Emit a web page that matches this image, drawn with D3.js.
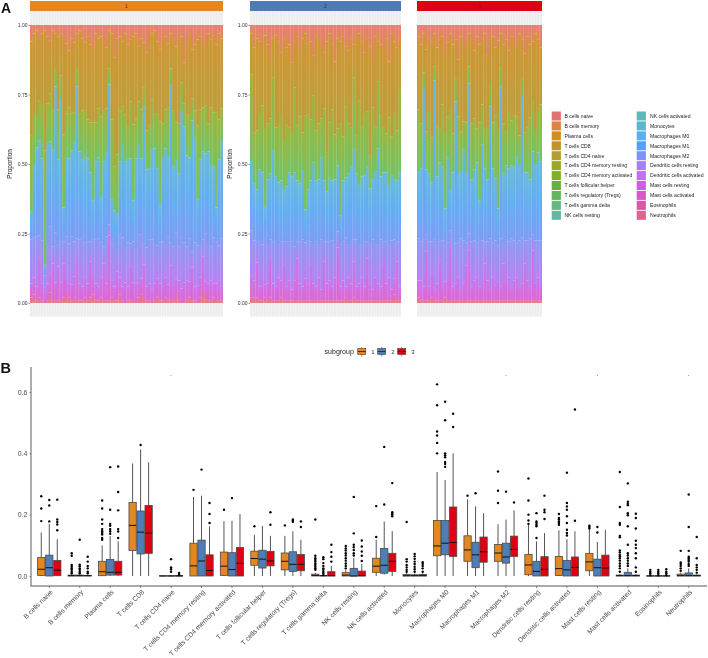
<!DOCTYPE html>
<html>
<head>
<meta charset="utf-8">
<script src="https://cdn.jsdelivr.net/npm/d3@7"></script>
<style>
  html, body { margin: 0; padding: 0; background: #fff; }
  svg { will-change: transform; }
  text { font-family: "Liberation Sans", Arial, sans-serif; }
</style>
</head>
<body>
<svg id="chart" width="708" height="658"></svg>
<script>
const cellTypes = ["B cells naive", "B cells memory", "Plasma cells", "T cells CD8", "T cells CD4 naive",
    "T cells CD4 memory resting", "T cells CD4 memory activated", "T cells follicular helper",
    "T cells regulatory (Tregs)", "T cells gamma delta", "NK cells resting", "NK cells activated", "Monocytes",
    "Macrophages M0", "Macrophages M1", "Macrophages M2", "Dendritic cells resting", "Dendritic cells activated",
    "Mast cells resting", "Mast cells activated", "Eosinophils", "Neutrophils"];
const legendColors = ["#E0736F", "#DB8444", "#CF8E1F", "#BE9625", "#B0A030", "#98A827", "#80AE25", "#62B338",
    "#62B65E", "#62BA80", "#62B9A0", "#5FB9B9", "#5DB5D0", "#5BAFEA", "#579FF5", "#8090F5", "#A67FF2", "#C070F0",
    "#CC60E0", "#D85AC8", "#DA58AA", "#DE6490"];
const subgroups = ["1", "2", "3"];
const subgroupColors = ["#E5871F", "#4F7DB8", "#E00012"];
const yTicksA = [0, 0.25, 0.5, 0.75, 1];
const yTicksB = [0, 0.2, 0.4, 0.6];

// stacked bars, top of the bar first, percent per patient in coarse colour bands
const bandNames = ["salmon", "gold", "green", "blue", "purple", "magenta", "pink"];
const bandStops = [["#E67E7A", "#DE8A50"], ["#CE9634", "#BC9E3A"], ["#9CB63C", "#72C266"],
    ["#68BAD8", "#62AEF2", "#7C9CF4"], ["#8C9AF4", "#B880F0"], ["#C874EE", "#DE68D0"], ["#E466B0", "#E9806E"]];

const salmon1 = [6,3,2,5,3,2,4,6,2,3,4,3, 5,7,9,5,6,3,2,5,6,4,7,9, 3,5,4,6,8,2,3,12,5,4,6,3,
    7,5,4,3,8,5,6,10,4,3,2,6, 9,5,4,7,3,6,8,5,4,13,6,3, 9,7,5,4,8,6,3,5,4,7,3,5];
const gold1 = [34,28,30,22,26,44,24,20,28,12,26,14, 34,26,20,28,24,12,30,26,24,30,28,26, 32,26,28,24,22,14,30,40,44,26,24,28,
    30,22,30,30,20,26,15,28,32,24,30,26, 26,30,26,24,12,24,28,30,16,14,26,30, 18,24,30,26,22,24,32,24,28,24,30,26];
const green1 = [28,18,12,14,20,42,14,18,14,6,18,8, 26,16,18,14,10,6,14,18,16,14,18,28, 14,18,28,18,16,6,28,16,22,18,14,16,
    12,20,26,14,16,18,7,14,16,18,12,20, 30,12,14,18,6,20,14,18,10,8,14,16, 8,10,26,18,16,18,10,20,20,34,14,12];
const blue1 = [10,26,32,34,30,4,36,32,34,50,30,48, 12,30,30,32,34,52,32,28,30,30,25,14, 28,30,16,30,30,52,14,12,14,26,34,30,
    30,30,14,32,33,28,46,28,26,33,34,28, 14,30,34,30,54,28,27,26,44,40,32,30, 48,38,16,30,32,30,33,29,26,12,30,36];
const purple1 = [16,14,18,8,16,6,14,18,6,17,8,14, 8,16,14,18,12,8,16,18,12,15,7,14, 16,18,12,6,17,4,14,16,8,15,18,12,
    16,8,14,12,18,16,7,14,16,18,14,12, 15,16,12,18,8,14,17,12,18,14,12,16, 6,16,14,12,6,18,14,12,17,15,12,18];
const magenta1 = [5,6,5,14,6,4,6,7,13,6,12,6, 12,6,5,6,7,13,6,5,7,6,13,6, 6,5,7,13,6,24,6,5,11,6,5,7,
    5,12,6,7,5,6,12,5,6,5,6,7, 6,5,7,6,12,5,6,7,5,6,7,6, 12,5,6,7,13,5,6,7,5,6,7,5];
const pink1 = [2,3,1,2,1,0,1,4,1,1,1,1, 2,3,2,1,2,1,1,1,2,1,2,3, 1,1,2,1,1,1,2,1,1,3,1,0,
    1,1,1,0,2,3,1,1,1,0,1,2, 1,1,2,1,1,1,3,1,0,1,1,2, 1,1,0,2,4,3,1,1,2,1,1,1];

const salmon2 = [3,8,5,6,9,4,7,12,5,4,6,10, 5,8,7,14,6,4,9,5,3,7,6,11, 4,5,8,10,6,3,7,13,5,6,4,8, 9,5,7,4,3,6,10,5,8,12,4,6, 7,9,5,13,3,6,8,5];
const gold2 = [14,30,34,26,20,36,28,22,14,34,30,22, 36,28,30,26,16,32,24,34,30,26,28,14, 34,30,26,20,40,32,24,26,34,30,36,22, 26,32,12,36,24,30,22,26,40,18,32,14, 26,28,34,20,38,26,30,18];
const green2 = [30,18,22,20,24,30,20,20,26,18,20,24, 18,22,16,16,30,20,24,14,34,28,22,24, 18,20,14,26,14,20,26,16,14,34,16,26, 18,14,26,14,30,18,22,20,12,26,16,24, 22,16,14,24,14,24,18,30];
const blue2 = [24,20,19,26,26,12,23,24,33,24,22,22, 19,20,25,24,26,22,21,25,12,19,22,29, 22,23,30,22,18,23,22,23,25,10,22,22, 25,27,33,24,21,24,24,27,20,22,26,34, 23,25,25,21,24,22,22,25];
const purple2 = [16,14,8,16,12,18,14,7,15,17,12,14, 8,16,14,18,12,6,15,17,13,16,8,14, 16,12,18,7,15,14,17,12,6,16,14,18, 12,15,8,17,14,12,16,6,15,18,12,14, 17,8,15,12,18,14,7,16];
const magenta2 = [7,6,13,5,8,5,6,14,6,5,8,6, 13,5,7,4,7,15,6,5,8,6,13,6, 5,8,4,14,6,7,5,8,20,5,7,4, 8,6,13,5,6,8,5,15,6,4,8,6, 5,13,6,8,4,6,14,5];
const pink2 = [2,2,2,1,1,2,1,2,1,1,1,2, 1,1,1,1,1,1,1,1,1,1,1,1, 1,1,1,1,1,1,1,1,1,1,1,2, 1,1,2,1,1,1,1,1,1,1,1,1, 1,1,1,1,1,3,1,1];

const salmon3 = [4,7,3,9,5,6,3,8,5,4,10,6, 3,7,5,12,4,6,8,3,5,9,4,7, 6,3,11,5,4,8,6,3,7,5,9,4, 6,8,3,5,10,4,7,6,3,5,8];
const gold3 = [26,28,14,30,26,34,12,28,32,24,30,26, 26,32,14,20,34,28,26,12,30,24,32,28, 22,34,26,16,30,24,34,12,28,32,22,30, 26,24,36,14,28,32,26,22,34,26,20];
const green3 = [22,16,6,14,22,16,5,18,12,22,28,14, 28,14,8,20,14,10,18,6,20,18,12,28, 14,14,18,8,16,22,30,7,18,12,20,16, 18,14,10,6,14,16,22,18,12,14,20];
const blue3 = [24,26,54,24,24,21,57,24,28,26,12,30, 14,24,50,24,24,32,24,54,22,25,28,14, 34,26,22,47,26,22,14,54,25,26,26,26, 26,30,27,50,24,24,21,30,27,31,28];
const purple3 = [15,14,17,6,16,12,18,14,7,16,15,13, 6,17,14,12,18,15,8,6,16,14,12,17, 15,8,14,18,12,16,14,17,7,15,13,18, 14,12,16,16,8,14,17,6,15,13,16];
const magenta3 = [6,7,5,18,5,8,4,6,14,5,6,7, 18,5,6,8,4,6,12,18,5,7,8,5, 6,13,7,4,8,5,7,5,13,6,8,4, 7,8,5,6,13,7,5,18,6,8,5];
const pink3 = [2,1,1,1,1,2,1,1,1,1,2,1, 1,1,1,1,1,1,1,1,1,1,1,1, 1,1,1,1,1,1,1,1,1,1,1,1, 1,1,1,1,1,1,1,1,1,1,1];

// box stats per cell type: [low, q1, median, q3, high]
const boxes1 = [[0,.002,.022,.06,.142],[0,0,.001,.003,.006],[0,.001,.014,.048,.1],[0,.083,.165,.24,.367],[0,0,0,.001,.001],
    [0,0,.033,.107,.258],[0,.002,.032,.078,.179],[0,.035,.057,.081,.134],[0,.02,.048,.075,.131],[0,0,.002,.006,.01],
    [0,0,.003,.011,.02],[0,.012,.032,.058,.118],[0,0,.001,.005,.01],[0,.066,.098,.181,.339],[0,.048,.085,.131,.25],
    [0,.048,.075,.103,.169],[0,.004,.036,.07,.171],[0,.002,.024,.064,.149],[0,.017,.046,.074,.151],[0,0,.001,.003,.006],
    [0,0,0,.001,.002],[0,0,.001,.006,.011]];
const boxes2 = [[0,0,.027,.068,.17],[0,0,.001,.003,.006],[0,.003,.012,.054,.13],[0,.072,.143,.212,.413],[0,0,0,.001,.002],
    [0,0,.049,.117,.262],[0,0,.021,.076,.18],[0,.026,.055,.084,.163],[0,.015,.038,.079,.146],[0,0,.001,.002,.004],
    [0,0,0,.025,.059],[.005,.009,.035,.09,.178],[0,0,.001,.004,.008],[0,.069,.107,.181,.313],[0,.027,.069,.11,.227],
    [0,.042,.062,.107,.184],[0,0,.015,.048,.113],[0,0,.02,.051,.12],[0,0,.027,.055,.111],[0,0,.001,.012,.025],
    [0,0,0,.001,.002],[0,0,.001,.01,.025]];
const boxes3 = [[0,.001,.019,.051,.12],[0,0,.001,.002,.005],[0,.003,.012,.048,.113],[0,.074,.14,.23,.371],[0,0,0,.002,.004],
    [0,0,.018,.069,.162],[0,0,.0415,.093,.202],[0,.033,.049,.08,.131],[0,.017,.038,.07,.118],[0,0,.001,.014,.033],
    [0,0,.001,.016,.039],[0,.015,.048,.074,.146],[0,0,.001,.005,.009],[0,.064,.109,.225,.4],[0,.045,.079,.127,.205],
    [0,.064,.087,.13,.214],[0,0,.022,.063,.14],[0,0,.028,.062,.146],[0,0,.026,.068,.151],[0,0,.001,.003,.006],
    [0,0,0,.001,.002],[0,0,.001,.003,.005]];

const outliers1 = [[.179,.22,.26],[.074,.066,.036,.03,.025,.02,.014,.009],[.118,.124,.135,.14,.146,.153,.17,.184,.22,.246],[],[],
    [.281],[.216],[.162],[.165],[.184,.066,.058,.052,.047,.041,.036,.03,.025,.02],
    [.098,.09,.083,.074,.067,.058,.05,.041,.033,.025],[.127,.228],[.176,.055,.047,.036,.028,.02,.014],[.4,.434,.458,.471,.557,.625],[.262],
    [.238,.278,.341],[.17,.181,.2,.246,.318],[.167,.173,.178,.184,.189,.202],[.164,.16,.155],
    [.339,.225,.173,.167,.131,.126,.083,.077,.069,.064,.058,.05,.041,.033,.025,.014],[.02,.014,.009,.003],[.082,.044,.039,.033,.025,.017]];
const outliers2 = [[.178,.23,.248],[.118,.037,.032,.025,.02,.014,.009],[.138,.146,.153,.164,.17,.216,.355],[.427],[.055,.028,.022,.014],
    [.347],[.254],[],[.184,.18,.177],[.061,.055,.042,.033,.025,.02,.014,.009,.003],
    [.067,.074,.085,.094,.102,.139,.258],[.233,.421],[.072,.064,.056,.047,.039,.03,.022,.014],[.356,.365,.372,.387,.394,.4,.508,.568],[.27],
    [.275],[.124,.162,.167,.173,.178,.205],[.132,.14,.151,.173,.195,.216,.227,.238,.337],[.142,.16],
    [.302,.242,.236,.231,.205,.198,.162,.102,.074,.067,.058,.05,.041,.033],[.02,.014,.009,.003],[.266,.16,.082,.063,.058,.052,.047,.039,.033]];
const outliers3 = [[.149,.168,.176,.184,.249],[.063,.047,.033,.025,.014,.009],[.124,.145,.153,.214,.274,.357],[],[.01,.004],
    [.173,.202,.238],[],[.167,.208],[.16,.178],[.047,.063,.078,.102],
    [.049,.066,.08,.096,.116],[.208,.203,.2,.195,.303],[.045,.039,.033,.025,.014],[.486,.529],[],
    [.24],[.186,.208,.216,.262],[.18,.543],[],
    [.203,.189,.155,.115,.102,.091,.074,.058,.028,.014],[.022,.014,.009,.003],[.127,.058,.036,.028,.02,.011]];

// the little "." labels from the group comparison
const sigTypes = ["T cells CD4 naive", "Macrophages M2", "Mast cells resting", "Neutrophils"];
const sigValue = 0.655;

const svg = d3.select("#chart");
const defs = svg.append("defs");

bandStops.forEach((stops, i) => {
    const grad = defs.append("linearGradient").attr("id", "band" + i)
        .attr("x1", 0).attr("x2", 0).attr("y1", 0).attr("y2", 1);
    stops.forEach((c, j) => {
        grad.append("stop").attr("offset", j / (stops.length - 1)).attr("stop-color", c);
    });
});
defs.append("filter").attr("id", "soft")
    .append("feGaussianBlur").attr("stdDeviation", "0.45 0.6");

// ---------- panel A ----------
const panels = [
    { id: "1", x0: 30, x1: 223, color: subgroupColors[0], axis: true, labelX: 12,
      bands: [salmon1, gold1, green1, blue1, purple1, magenta1, pink1] },
    { id: "2", x0: 250, x1: 401, color: "#4E7AB5", axis: true, labelX: 232,
      bands: [salmon2, gold2, green2, blue2, purple2, magenta2, pink2] },
    { id: "3", x0: 417, x1: 542, color: subgroupColors[2], axis: false,
      bands: [salmon3, gold3, green3, blue3, purple3, magenta3, pink3] }
];

const yA = d3.scaleLinear().domain([0, 1]).range([303, 25]);

panels.forEach(panel => {
    const n = panel.bands[0].length;
    const x = d3.scaleBand().domain(d3.range(n)).range([panel.x0, panel.x1]);
    const g = svg.append("g");

    g.append("rect").attr("x", panel.x0).attr("y", 1).attr("width", panel.x1 - panel.x0).attr("height", 10)
        .attr("fill", panel.color);
    g.append("text").attr("x", (panel.x0 + panel.x1) / 2).attr("y", 7.8).attr("text-anchor", "middle")
        .attr("font-size", 5).attr("fill", "#333").text(panel.id);

    // grey bands above and below the bars
    [[11, 14], [303, 13.5]].forEach(([top, h]) => {
        g.append("rect").attr("x", panel.x0).attr("y", top).attr("width", panel.x1 - panel.x0).attr("height", h)
            .attr("fill", "#f6f6f6");
        g.selectAll(null).data(d3.range(n)).enter().append("rect")
            .attr("x", d => x(d) + 0.3)
            .attr("y", top)
            .attr("width", x.bandwidth() - 0.6)
            .attr("height", h)
            .attr("fill", "#ededed");
    });

    // top of the bar is the first band, so reverse for the stack
    const rows = d3.range(n).map(i => {
        const row = { i: i };
        bandNames.forEach((name, b) => { row[name] = panel.bands[b][i]; });
        return row;
    });
    const stack = d3.stack().keys(bandNames.slice().reverse()).offset(d3.stackOffsetExpand);
    const clipId = "clip" + panel.id;
    defs.append("clipPath").attr("id", clipId).append("rect")
        .attr("x", panel.x0).attr("y", yA(1)).attr("width", panel.x1 - panel.x0).attr("height", yA(0) - yA(1));
    const barLayer = g.append("g").attr("clip-path", "url(#" + clipId + ")").append("g").attr("filter", "url(#soft)");
    stack(rows).forEach(layer => {
        const b = bandNames.indexOf(layer.key);
        barLayer.selectAll(null).data(layer).enter().append("rect")
            .attr("x", d => x(d.data.i))
            .attr("y", d => yA(d[1]))
            .attr("width", x.bandwidth() + 0.2)
            .attr("height", d => Math.max(0, yA(d[0]) - yA(d[1])))
            .attr("fill", "url(#band" + b + ")");
    });

    if (panel.axis) {
        const axis = g.append("g").attr("transform", "translate(" + panel.x0 + ",0)")
            .call(d3.axisLeft(yA).tickValues(yTicksA).tickFormat(d3.format(".2f")).tickSize(1.5).tickPadding(1));
        axis.select(".domain").remove();
        axis.selectAll("line").attr("stroke", "#333").attr("stroke-width", 0.5);
        axis.selectAll("text").attr("font-size", 5).attr("fill", "#333")
            .style("font-family", '"Liberation Sans", Arial, sans-serif');
        g.append("text").attr("transform", "translate(" + panel.labelX + ",164) rotate(-90)")
            .attr("text-anchor", "middle").attr("font-size", 6.4).attr("fill", "#111").text("Proportion");
    }
});

// legend of panel A
const legendRows = 11;
const legendA = svg.append("g");
cellTypes.forEach((name, i) => {
    const col = Math.floor(i / legendRows);
    const row = i % legendRows;
    const top = 111.5 + row * 9.93;
    legendA.append("rect").attr("x", col ? 636.7 : 551.7).attr("y", top).attr("width", 9.2).attr("height", 9)
        .attr("fill", legendColors[i]);
    legendA.append("text").attr("x", col ? 650 : 564.4).attr("y", top + 6.3)
        .attr("font-size", 5.1).attr("fill", "#222").text(name);
});

// ---------- panel B ----------
const xB = d3.scaleBand().domain(cellTypes).range([31, 707]).paddingOuter(0.1).paddingInner(0);
const offset = xB.step() * 0.263;
const yB = d3.scaleLinear().domain([0, 0.6]).range([576, 392]);
const boxWidth = 7.3;

const boxLayer = svg.append("g");
const allBoxes = [boxes1, boxes2, boxes3];
const allOutliers = [outliers1, outliers2, outliers3];

allBoxes.forEach((boxes, s) => {
    const group = boxLayer.selectAll(null).data(cellTypes).enter().append("g")
        .attr("transform", d => "translate(" + (xB(d) + xB.bandwidth() / 2 + (s - 1) * offset) + ",0)");
    const stat = (d, k) => boxes[cellTypes.indexOf(d)][k];

    group.append("line")
        .attr("y1", d => yB(stat(d, 0))).attr("y2", d => yB(stat(d, 4)))
        .attr("stroke", "#555").attr("stroke-width", 1);
    group.append("rect")
        .attr("x", -boxWidth / 2).attr("width", boxWidth)
        .attr("y", d => yB(stat(d, 3)))
        .attr("height", d => yB(stat(d, 1)) - yB(stat(d, 3)))
        .attr("fill", subgroupColors[s]).attr("stroke", "#4a4a4a").attr("stroke-width", 0.8);
    group.append("line")
        .attr("x1", -boxWidth / 2).attr("x2", boxWidth / 2)
        .attr("y1", d => yB(stat(d, 2))).attr("y2", d => yB(stat(d, 2)))
        .attr("stroke", "#111").attr("stroke-width", 1);
    group.selectAll("circle").data(d => allOutliers[s][cellTypes.indexOf(d)]).enter().append("circle")
        .attr("cy", d => yB(d)).attr("r", 1.2).attr("fill", "#000");
});

sigTypes.forEach(name => {
    svg.append("text").attr("x", xB(name) + xB.bandwidth() / 2).attr("y", yB(sigValue) + 1)
        .attr("text-anchor", "middle").attr("font-size", 7).attr("fill", "#444").text(".");
});

// axes of panel B, drawn as simple L
const xAxisB = svg.append("g").attr("transform", "translate(0,586)")
    .call(d3.axisBottom(xB).tickSize(2).tickPadding(2));
xAxisB.select(".domain").attr("d", "M30.5,0H707").attr("stroke", "#555").attr("stroke-width", 1);
xAxisB.selectAll("line").attr("stroke", "#444").attr("stroke-width", 0.6);
xAxisB.selectAll("text")
    .attr("x", 0).attr("y", 0).attr("dy", 0)
    .attr("transform", "translate(4,6.5) rotate(-45)")
    .attr("text-anchor", "end")
    .attr("font-size", 6.8).attr("fill", "#4d4d4d")
    .style("font-family", '"Liberation Sans", Arial, sans-serif');

const yAxisB = svg.append("g").attr("transform", "translate(31,0)")
    .call(d3.axisLeft(yB).tickValues(yTicksB).tickFormat(d3.format(".1f")).tickSize(1.5).tickPadding(2));
yAxisB.select(".domain").attr("d", "M0,367V586").attr("stroke", "#777").attr("stroke-width", 1.2);
yAxisB.selectAll("line").attr("stroke", "#444").attr("stroke-width", 0.6);
yAxisB.selectAll("text").attr("font-size", 7).attr("fill", "#4d4d4d")
    .style("font-family", '"Liberation Sans", Arial, sans-serif');

// legend of panel B
const legendB = svg.append("g");
legendB.append("text").attr("x", 324.6).attr("y", 354).attr("font-size", 7).attr("fill", "#222").text("subgroup");
subgroups.forEach((name, i) => {
    const cx = 361.7 + i * 20;
    legendB.append("line").attr("x1", cx).attr("x2", cx).attr("y1", 347).attr("y2", 356.5)
        .attr("stroke", "#444").attr("stroke-width", 0.6);
    legendB.append("rect").attr("x", cx - 4).attr("y", 348.5).attr("width", 8).attr("height", 6)
        .attr("fill", subgroupColors[i]).attr("stroke", "#444").attr("stroke-width", 0.6);
    legendB.append("line").attr("x1", cx - 4).attr("x2", cx + 4).attr("y1", 351.5).attr("y2", 351.5)
        .attr("stroke", "#222").attr("stroke-width", 0.8);
    legendB.append("text").attr("x", cx + 9.5).attr("y", 354).attr("font-size", 6).attr("fill", "#333").text(name);
});

// panel letters
svg.append("text").attr("x", 1).attr("y", 13).attr("font-size", 14).attr("font-weight", "bold").attr("fill", "#111").text("A");
svg.append("text").attr("x", 0.5).attr("y", 372.7).attr("font-size", 14.5).attr("font-weight", "bold").attr("fill", "#111").text("B");
</script>
</body>
</html>
